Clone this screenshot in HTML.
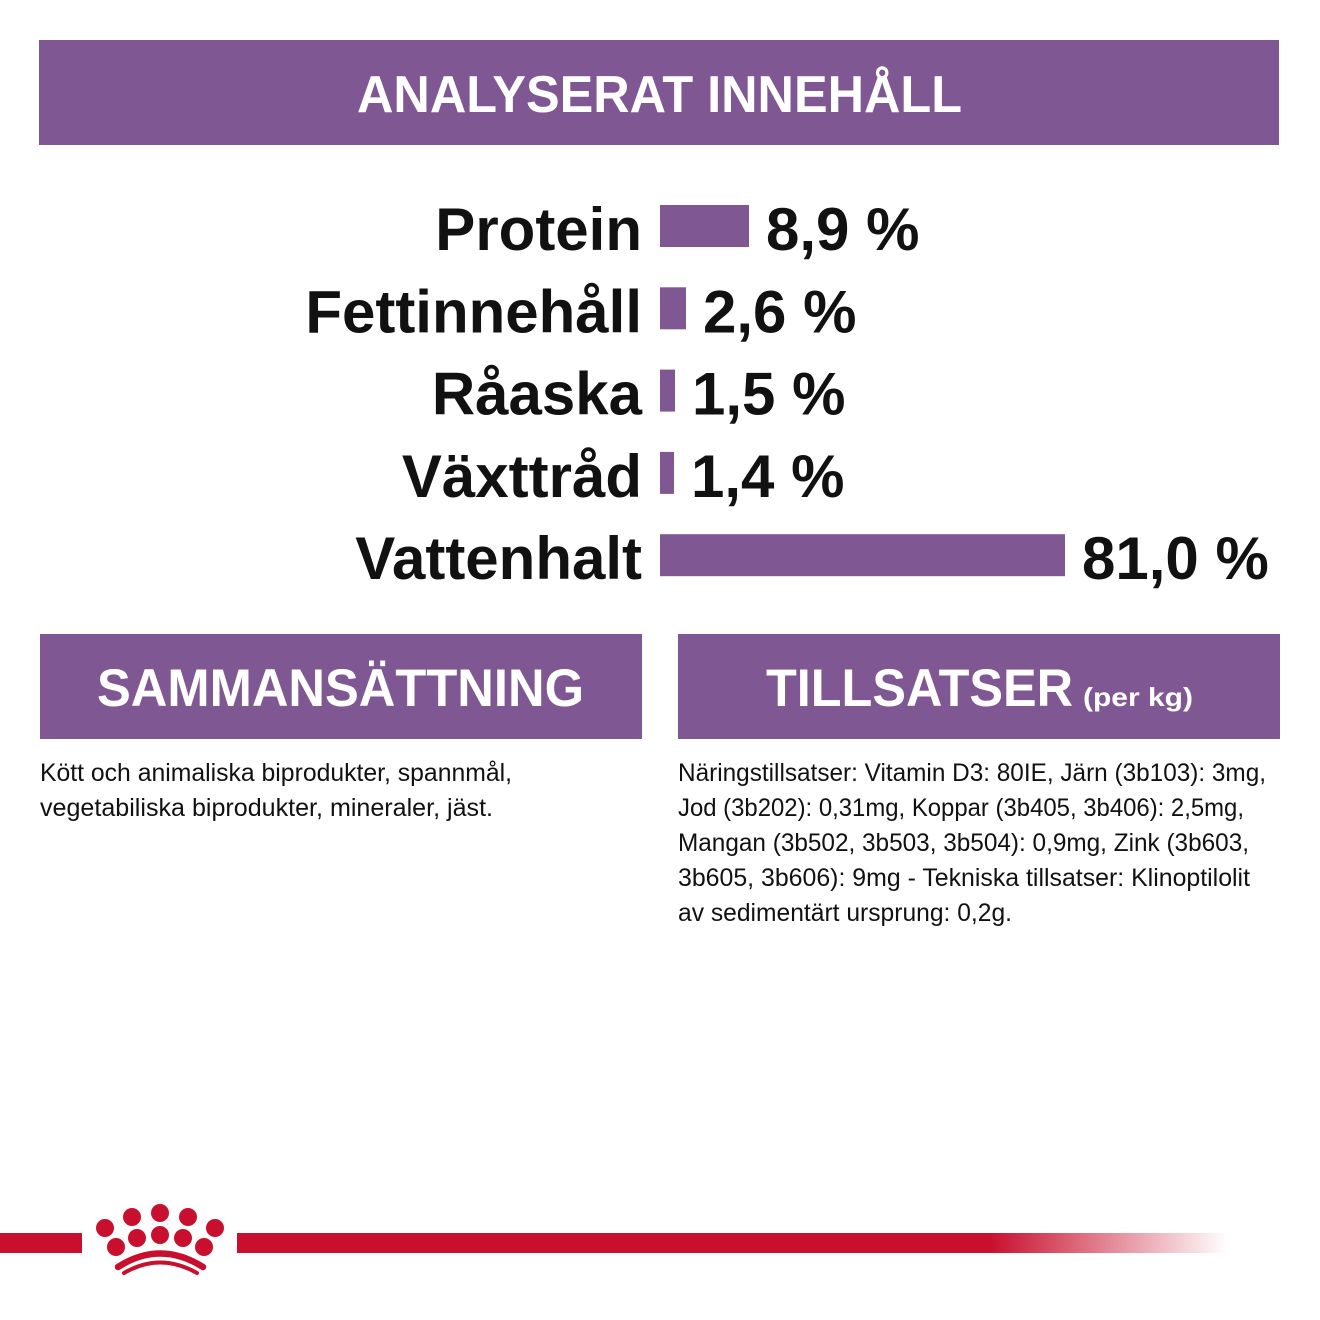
<!DOCTYPE html>
<html><head><meta charset="utf-8"><style>
html,body{margin:0;padding:0;background:#fff;}
svg{display:block;}
text{font-family:"Liberation Sans",sans-serif;}
</style></head><body>
<svg id="chart" width="1320" height="1320" viewBox="0 0 1320 1320" xmlns="http://www.w3.org/2000/svg">
<defs>
<linearGradient id="fade" x1="237" x2="1228" y1="0" y2="0" gradientUnits="userSpaceOnUse">
<stop offset="0" stop-color="#c8102e"/><stop offset="0.76" stop-color="#c8102e"/><stop offset="1" stop-color="#c8102e" stop-opacity="0"/>
</linearGradient>
</defs>
<g>
<rect x="39" y="40" width="1240" height="105" fill="#7f5893"/>
<text x="357" y="112" font-size="52" font-weight="bold" fill="#fff" textLength="605" lengthAdjust="spacingAndGlyphs">ANALYSERAT INNEHÅLL</text>
</g>
<g id="bars"></g>
<g>
<rect x="40" y="634" width="602" height="105" fill="#7f5893"/>
<text x="97" y="706" font-size="53" font-weight="bold" fill="#fff" textLength="487" lengthAdjust="spacingAndGlyphs">SAMMANSÄTTNING</text>
</g>
<g>
<rect x="678" y="634" width="602" height="105" fill="#7f5893"/>
<text x="766" y="706" font-size="53" font-weight="bold" fill="#fff" textLength="307" lengthAdjust="spacingAndGlyphs">TILLSATSER</text>
<text x="1083" y="706" font-size="26" font-weight="bold" fill="#fff" textLength="110" lengthAdjust="spacingAndGlyphs">(per kg)</text>
</g>
<g font-size="25" fill="#111">
<text x="40" y="781" textLength="472" lengthAdjust="spacingAndGlyphs">Kött och animaliska biprodukter, spannmål,</text>
<text x="40" y="816" textLength="453" lengthAdjust="spacingAndGlyphs">vegetabiliska biprodukter, mineraler, jäst.</text>
</g>
<g font-size="25" fill="#111">
<text x="678" y="781" textLength="588" lengthAdjust="spacingAndGlyphs">Näringstillsatser: Vitamin D3: 80IE, Järn (3b103): 3mg,</text>
<text x="678" y="816" textLength="566" lengthAdjust="spacingAndGlyphs">Jod (3b202): 0,31mg, Koppar (3b405, 3b406): 2,5mg,</text>
<text x="678" y="851" textLength="571" lengthAdjust="spacingAndGlyphs">Mangan (3b502, 3b503, 3b504): 0,9mg, Zink (3b603,</text>
<text x="678" y="886" textLength="572" lengthAdjust="spacingAndGlyphs">3b605, 3b606): 9mg - Tekniska tillsatser: Klinoptilolit</text>
<text x="678" y="921" textLength="334" lengthAdjust="spacingAndGlyphs">av sedimentärt ursprung: 0,2g.</text>
</g>
<g>
<rect x="0" y="1233" width="82" height="20" fill="#c8102e"/>
<rect x="237" y="1233" width="991" height="20" fill="url(#fade)"/>
<g fill="#c8102e">
<circle cx="105" cy="1228" r="9"/><circle cx="132" cy="1217" r="9"/><circle cx="160" cy="1213" r="9"/><circle cx="188" cy="1217" r="9"/><circle cx="215" cy="1228" r="9"/>
<circle cx="116" cy="1247" r="9"/><circle cx="137" cy="1238" r="9"/><circle cx="160" cy="1235" r="9"/><circle cx="183" cy="1238" r="9"/><circle cx="204" cy="1247" r="9"/>
<path d="M118 1267 Q160 1240 203 1267" stroke="#c8102e" stroke-width="6.5" fill="none" stroke-linecap="round"/>
<path d="M124 1273 Q160 1252 197 1273" stroke="#c8102e" stroke-width="4" fill="none" stroke-linecap="round"/>
</g>
</g>
</svg>
<script>
const categories = ["Protein", "Fettinnehåll", "Råaska", "Växttråd", "Vattenhalt"];
const values = [8.9, 2.6, 1.5, 1.4, 81.0];
const valueLabels = ["8,9 %", "2,6 %", "1,5 %", "1,4 %", "81,0 %"];

const NS = "http://www.w3.org/2000/svg";
const g = document.getElementById("bars");
const x0 = 660, pxPer = 10, maxW = 405;
function xScale(v){ return Math.min(v * pxPer, maxW); }
function yRow(i){ return 205 + i * 82.3; }
categories.forEach((c, i) => {
  const y = yRow(i);
  const w = xScale(values[i]);
  const lab = document.createElementNS(NS, "text");
  
  
  lab.setAttribute("x", 642); lab.setAttribute("y", y + 45);
  lab.setAttribute("text-anchor", "end");
  lab.setAttribute("font-size", "60"); lab.setAttribute("font-weight", "bold");
  lab.setAttribute("fill", "#111");
  lab.textContent = c;
  g.appendChild(lab);
  const r = document.createElementNS(NS, "rect");
  
  
  r.setAttribute("x", x0); r.setAttribute("y", y);
  r.setAttribute("width", w); r.setAttribute("height", 42);
  r.setAttribute("fill", "#7f5893");
  g.appendChild(r);
  const v = document.createElementNS(NS, "text");
  
  
  v.setAttribute("x", x0 + w + 17); v.setAttribute("y", y + 45);
  v.setAttribute("font-size", "60"); v.setAttribute("font-weight", "bold");
  v.setAttribute("fill", "#111");
  v.textContent = valueLabels[i];
  g.appendChild(v);
});
</script>
</body></html>
